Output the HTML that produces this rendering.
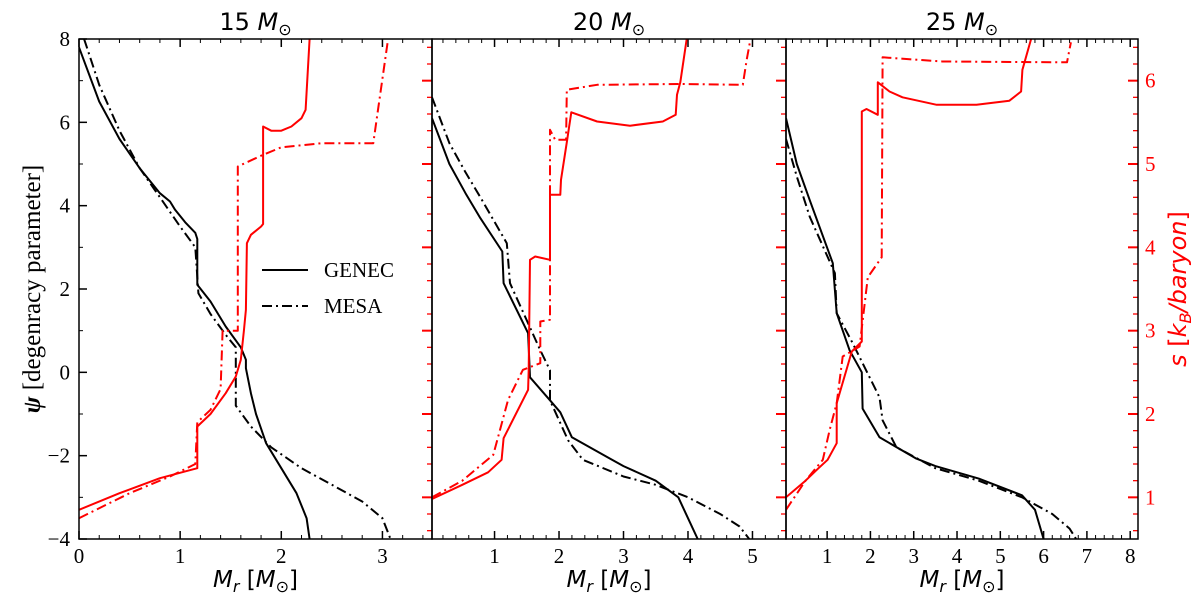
<!DOCTYPE html>
<html><head><meta charset="utf-8"><style>
html,body{margin:0;padding:0;background:#fff;width:1200px;height:608px;overflow:hidden}
svg{display:block}
.tk{font-family:"Liberation Serif","DejaVu Serif",serif;font-size:21px}
.sn{font-family:"DejaVu Sans","Liberation Sans",sans-serif}
</style></head><body>
<svg id="chart" width="1200" height="608" xmlns="http://www.w3.org/2000/svg"></svg>
<script>
// ---- data ----
const panelTitles = ["15", "20", "25"];
const xDomains = [[0, 3.49], [0.03, 5.52], [0.05, 8.18]];
const xTicks = [[0,1,2,3],[1,2,3,4,5],[1,2,3,4,5,6,7,8]];
const psiTicks = [8,6,4,2,0,-2,-4];
const sTicks = [1,2,3,4,5,6];
// psi (degeneracy) GENEC / MESA, [Mr, psi]
const psiGenec = [
 [[0,7.8],[0.2,6.5],[0.4,5.6],[0.6,4.9],[0.8,4.3],[0.9,4.1],[0.95,3.9],[1.05,3.6],[1.15,3.35],[1.17,3.2],[1.17,2.1],[1.3,1.7],[1.45,1.1],[1.6,0.6],[1.65,0.3],[1.65,0.1],[1.7,-0.5],[1.75,-1.0],[1.85,-1.7],[2.0,-2.3],[2.15,-2.9],[2.25,-3.5],[2.28,-4.0]],
 [[0.03,6.1],[0.3,5.0],[0.55,4.3],[0.78,3.7],[1.12,2.9],[1.14,2.14],[1.52,0.94],[1.55,-0.12],[1.86,-0.67],[2.02,-0.96],[2.2,-1.56],[2.79,-2.07],[3.0,-2.25],[3.5,-2.6],[3.85,-3.0],[4.0,-3.5],[4.15,-4.0]],
 [[0.05,6.1],[0.3,5.0],[0.6,4.13],[1.13,2.62],[1.22,1.42],[1.52,0.53],[1.8,0],[1.82,-0.87],[2.21,-1.56],[3.06,-2.07],[3.5,-2.25],[4.5,-2.55],[5.5,-2.95],[5.8,-3.3],[6.0,-4.0]]
];
const psiMesa = [
 [[0.05,8],[0.2,6.9],[0.4,5.8],[0.6,4.9],[0.8,4.2],[1.0,3.5],[1.15,3.0],[1.18,1.9],[1.3,1.4],[1.45,0.9],[1.55,0.6],[1.55,-0.8],[1.7,-1.3],[1.9,-1.8],[2.2,-2.3],[2.5,-2.7],[2.8,-3.1],[3.0,-3.5],[3.08,-4.0]],
 [[0.03,6.6],[0.3,5.5],[0.55,4.8],[0.78,4.2],[1.19,3.1],[1.24,2.14],[1.71,0.53],[1.86,0.05],[1.86,-0.67],[2.14,-1.63],[2.37,-2.1],[3.0,-2.5],[3.5,-2.7],[4.0,-3.0],[4.5,-3.4],[4.8,-3.7],[4.95,-4.0]],
 [[0.05,5.6],[0.3,4.7],[0.6,3.73],[1.18,2.38],[1.22,1.42],[1.59,0.7],[2.21,-0.6],[2.28,-1.15],[2.6,-1.8],[3.5,-2.3],[4.5,-2.6],[5.5,-3.0],[6.2,-3.4],[6.6,-3.75],[6.75,-4.0]]
];
// entropy s [kB/baryon], [Mr, s]
const sGenec = [
 [[0,0.85],[0.4,1.05],[0.8,1.23],[1.17,1.35],[1.17,1.85],[1.3,2.0],[1.45,2.25],[1.55,2.45],[1.6,2.65],[1.63,3.0],[1.65,3.25],[1.66,4.05],[1.7,4.15],[1.8,4.25],[1.82,4.28],[1.82,5.45],[1.9,5.4],[2.0,5.4],[2.1,5.45],[2.2,5.55],[2.24,5.65],[2.28,6.5]],
 [[0.03,0.98],[0.5,1.15],[0.9,1.3],[1.11,1.45],[1.14,1.71],[1.52,2.29],[1.53,2.53],[1.55,3.85],[1.63,3.89],[1.86,3.85],[1.86,4.63],[2.02,4.63],[2.03,4.81],[2.12,5.26],[2.19,5.62],[2.59,5.51],[3.1,5.46],[3.61,5.51],[3.81,5.59],[3.83,5.83],[3.88,5.98],[3.98,6.5]],
 [[0.05,1.0],[0.5,1.2],[0.8,1.35],[1.01,1.45],[1.22,1.65],[1.22,2.13],[1.57,2.75],[1.8,2.87],[1.8,5.63],[1.91,5.66],[2.17,5.59],[2.17,5.98],[2.44,5.87],[2.74,5.8],[3.53,5.71],[4.45,5.71],[5.21,5.76],[5.48,5.87],[5.51,6.13],[5.71,6.5]]
];
const sMesa = [
 [[0,0.75],[0.5,1.05],[0.9,1.25],[1.15,1.4],[1.17,1.9],[1.3,2.05],[1.4,2.3],[1.42,3.0],[1.57,3.0],[1.57,4.97],[1.8,5.1],[2.0,5.2],[2.4,5.25],[2.91,5.25],[2.95,5.6],[3.05,6.45]],
 [[0.03,1.0],[0.5,1.2],[0.98,1.51],[1.21,2.17],[1.44,2.53],[1.71,2.61],[1.71,3.11],[1.86,3.13],[1.86,5.41],[1.94,5.29],[2.11,5.29],[2.12,5.89],[2.59,5.95],[3.88,5.96],[4.85,5.95],[4.91,6.25],[4.96,6.46]],
 [[0.05,0.85],[0.5,1.2],[0.9,1.45],[1.06,1.81],[1.22,2.13],[1.36,2.69],[1.75,2.81],[1.94,3.64],[2.26,3.88],[2.28,6.28],[3.66,6.23],[6.54,6.22],[6.63,6.46]]
];
const psiDomain = [-4, 8];
const sDomain = [0.5, 6.5];

// ---- layout ----
const NS = "http://www.w3.org/2000/svg";
const svg = document.getElementById("chart");
const panelX = [[79,432],[432,786],[786,1138]];
const plotTop = 39, plotBot = 539;
function el(tag, attrs, parent){const e=document.createElementNS(NS,tag);for(const k in attrs)e.setAttribute(k,attrs[k]);(parent||svg).appendChild(e);return e;}
function yPsi(v){return plotBot-(v-psiDomain[0])/(psiDomain[1]-psiDomain[0])*(plotBot-plotTop);}
function yS(v){return plotBot-(v-sDomain[0])/(sDomain[1]-sDomain[0])*(plotBot-plotTop);}

for(let p=0;p<3;p++){
  const x0=panelX[p][0], x1=panelX[p][1]; const d0=xDomains[p][0], d1=xDomains[p][1];
  const xs=v=>x0+(v-d0)/(d1-d0)*(x1-x0);
  const g=el("g",{});
  
  
  const clipId="clip"+p;
  const cp=el("clipPath",{id:clipId},g); el("rect",{x:x0,y:plotTop,width:x1-x0,height:plotBot-plotTop},cp);
  for(let i=Math.ceil(d0*5); i<=Math.floor(d1*5); i++){
    const v=i/5; const X=xs(v); const major=i%5===0;
    const L=major?8:4;
    el("line",{x1:X,y1:plotBot,x2:X,y2:plotBot-L,stroke:"#000","stroke-width":major?1.5:1},g);
    el("line",{x1:X,y1:plotTop,x2:X,y2:plotTop+L,stroke:"#000","stroke-width":major?1.5:1},g);
  }
  xTicks[p].forEach(v=>{
    const t=el("text",{x:xs(v),y:plotBot+24,"text-anchor":"middle",class:"tk"},g);
    
    
    t.textContent=v;
  });
  for(let i=3; i<=32; i++){
    const v=i/5; const Y=yS(v); const major=i%5===0;
    el("line",{x1:x1,y1:Y,x2:x1-(major?10:5),y2:Y,stroke:"red","stroke-width":major?2:1.3},g);
  }
  if(p===0){
    for(let v=-4; v<=8; v+=1){
      const Y=yPsi(v); const major=v%2===0;
      el("line",{x1:x0,y1:Y,x2:x0+(major?8:4),y2:Y,stroke:"#000","stroke-width":major?1.5:1},g);
    }
  }
  const lines=[[psiGenec[p],yPsi,"#000",null,"genec-psi"],[psiMesa[p],yPsi,"#000","10,4,2,4","mesa-psi"],
               [sGenec[p],yS,"red",null,"genec-entropy"],[sMesa[p],yS,"red","10,4,2,4","mesa-entropy"]];
  lines.forEach(function(L){
    const data=L[0], yf=L[1], col=L[2], dash=L[3], nm=L[4];
    const d=data.map((pt,i)=>(i?"L":"M")+xs(pt[0]).toFixed(1)+","+yf(pt[1]).toFixed(1)).join(" ");
    const a={d:d,fill:"none",stroke:col,"stroke-width":2,"clip-path":"url(#"+clipId+")","stroke-linejoin":"round"};
    if(dash)a["stroke-dasharray"]=dash;
    const path=el("path",a,g);
    
    
  });
  el("rect",{x:x0,y:plotTop,width:x1-x0,height:plotBot-plotTop,fill:"none",stroke:"#000","stroke-width":1.5},g);
  const tt=el("text",{x:(x0+x1)/2,y:plotTop-9,"text-anchor":"middle",class:"sn",style:"font-size:24px"},g);
  
  
  tt.innerHTML=panelTitles[p]+' <tspan font-style="italic">M</tspan><tspan font-size="16" dy="5">⊙</tspan>';
  const xl=el("text",{x:(x0+x1)/2,y:587,"text-anchor":"middle",class:"sn",style:"font-size:23px"},g);
  
  
  xl.innerHTML='<tspan font-style="italic">M</tspan><tspan font-style="italic" font-size="16" dy="5">r</tspan><tspan dy="-5"> [</tspan><tspan font-style="italic">M</tspan><tspan font-size="16" dy="5">⊙</tspan><tspan dy="-5">]</tspan>';
}
psiTicks.forEach(v=>{
  const t=el("text",{x:70,y:yPsi(v)+7,"text-anchor":"end",class:"tk"});
  
  
  t.textContent=(v<0?"−":"")+Math.abs(v);
});
sTicks.forEach(v=>{
  const t=el("text",{x:1145,y:yS(v)+7,"text-anchor":"start",class:"tk",fill:"red"});
  
  
  t.textContent=v;
});
const yl=el("text",{x:0,y:0,transform:"translate(40,289) rotate(-90)","text-anchor":"middle",class:"tk",style:"font-size:25px"});


yl.innerHTML='<tspan font-style="italic" font-weight="bold">ψ</tspan>  [degenracy parameter]';
const rl=el("text",{x:0,y:0,transform:"translate(1186,289) rotate(-90)","text-anchor":"middle",class:"sn",fill:"red",style:"font-size:24px"});


rl.innerHTML='<tspan font-style="italic">s</tspan> [<tspan font-style="italic">k</tspan><tspan font-style="italic" font-size="16" dy="5">B</tspan><tspan font-style="italic" dy="-5">/baryon</tspan>]';
const lg=el("g",{});


el("line",{x1:262,y1:270,x2:308,y2:270,stroke:"#000","stroke-width":2},lg);
el("line",{x1:262,y1:306,x2:308,y2:306,stroke:"#000","stroke-width":2,"stroke-dasharray":"10,4,2,4"},lg);
const l1=el("text",{x:324,y:277,class:"tk",style:"font-size:21px"},lg);


l1.textContent="GENEC";
const l2=el("text",{x:324,y:313,class:"tk",style:"font-size:21px"},lg);


l2.textContent="MESA";
</script>
</body></html>
